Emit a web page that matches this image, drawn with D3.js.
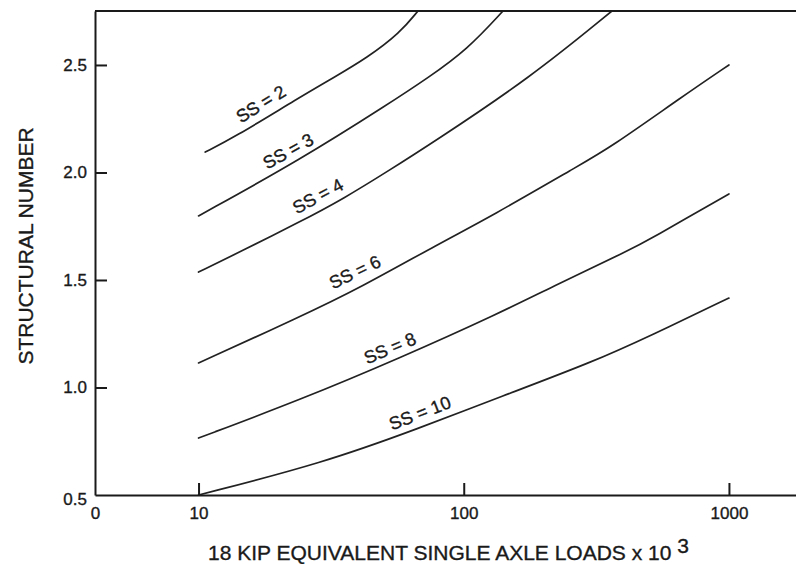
<!DOCTYPE html>
<html>
<head>
<meta charset="utf-8">
<script src="https://cdn.jsdelivr.net/npm/d3@7"></script>
<style>
  html, body { margin: 0; padding: 0; background: #fff; }
  svg { display: block; }
  text { font-family: "Liberation Sans", Arial, Helvetica, sans-serif; fill: #1a1a1a; stroke: #1a1a1a; stroke-width: 0.35px; }
</style>
</head>
<body>
<svg id="chart" width="796" height="564"></svg>
<script>
// ---- data ----
const xTickValues = [10, 100, 1000];
const yTickValues = [0.5, 1.0, 1.5, 2.0, 2.5];
const xTitle = "18 KIP EQUIVALENT SINGLE AXLE LOADS x 10";
const xTitleSup = "3";
const yTitle = "STRUCTURAL NUMBER";

const ssLevels = [2, 3, 4, 6, 8, 10];

const ss2Loads = [10.6, 13.5, 24.1, 32.2, 43.2, 57.5, 67.2];
const ss2SN    = [2.095, 2.16, 2.35, 2.44, 2.533, 2.649, 2.751];

const ss3Loads = [10, 24.1, 52.7, 73.3, 102.8, 140.6];
const ss3SN    = [1.798, 2.058, 2.323, 2.44, 2.57, 2.751];

const ss4Loads = [10, 14.3, 24.1, 35.1, 52.7, 76.6, 177.8, 362];
const ss4SN    = [1.537, 1.63, 1.77, 1.877, 2.012, 2.14, 2.44, 2.751];

const ss6Loads = [10, 24.1, 40.6, 81.4, 125.6, 274, 356, 671, 1000];
const ss6SN    = [1.114, 1.328, 1.463, 1.672, 1.793, 2.035, 2.115, 2.355, 2.5];

const ss8Loads = [10, 24.1, 57.5, 137, 211, 423, 504, 1000];
const ss8SN    = [0.765, 0.942, 1.137, 1.347, 1.463, 1.64, 1.69, 1.9];

const ss10Loads = [10, 29.5, 68.4, 137, 307, 504, 1000];
const ss10SN    = [0.5, 0.649, 0.812, 0.956, 1.119, 1.24, 1.416];

// label anchor (centre of text) in data units
const labelLoads = [17.2, 21.8, 28.2, 38.9, 52.7, 68.4];
const labelSN    = [2.318, 2.098, 1.889, 1.536, 1.182, 0.88];

const seriesLoads = [ss2Loads, ss3Loads, ss4Loads, ss6Loads, ss8Loads, ss10Loads];
const seriesSN    = [ss2SN, ss3SN, ss4SN, ss6SN, ss8SN, ss10SN];

// ---- layout ----
const plotLeft = 95, plotRight = 796, plotTop = 11, plotBottom = 495;
const xMin = 4.07, xMax = 1790;
const yMin = 0.5, yMax = 2.751;

const svg = d3.select("#chart");
const x = d3.scaleLog().domain([xMin, xMax]).range([plotLeft, plotRight]);
const y = d3.scaleLinear().domain([yMin, yMax]).range([plotBottom, plotTop]);

svg.append("defs").append("clipPath").attr("id", "plotclip")
  .append("rect").attr("x", plotLeft).attr("y", plotTop)
  .attr("width", plotRight - plotLeft).attr("height", plotBottom - plotTop);

// curves
const line = d3.line()
  .x(d => x(d[0])).y(d => y(d[1]))
  .curve(d3.curveBasis);

const gCurves = svg.append("g").attr("clip-path", "url(#plotclip)");
seriesLoads.forEach((loads, i) => {
  const pts = loads.map((l, j) => [l, seriesSN[i][j]]);
  gCurves.append("path")
    .attr("d", line(pts))
    .attr("fill", "none")
    .attr("stroke", "#222")
    .attr("stroke-width", 1.7)
    .attr("stroke-linecap", "round");
});

// labels
ssLevels.forEach((ss, i) => {
  const loads = seriesLoads[i], sn = seriesSN[i];
  const L = labelLoads[i];
  let k = d3.bisectRight(loads, L) - 1;
  k = Math.max(0, Math.min(loads.length - 2, k));
  const dx = x(loads[k + 1]) - x(loads[k]);
  const dy = y(sn[k + 1]) - y(sn[k]);
  const ang = Math.atan2(dy, dx) * 180 / Math.PI;
  const cx = x(L), cy = y(labelSN[i]);
  svg.append("text")
    .attr("transform", `translate(${cx},${cy}) rotate(${ang})`)
    .attr("text-anchor", "middle")
    .attr("dominant-baseline", "central")
    .attr("font-size", 18)
    .text(`SS = ${ss}`);
});

// top frame line (no right border)
svg.append("line").attr("x1", plotLeft).attr("x2", plotRight).attr("y1", plotTop).attr("y2", plotTop)
  .attr("stroke", "#1a1a1a").attr("stroke-width", 2);

// x axis
const xAxis = d3.axisBottom(x)
  .tickValues([xMin].concat(xTickValues))
  .tickSize(-12).tickSizeOuter(0).tickPadding(12)
  .tickFormat(d => d === xMin ? "0" : String(d));
const gx = svg.append("g").attr("transform", `translate(0,${plotBottom})`).call(xAxis);
gx.select(".domain").attr("stroke", "#1a1a1a").attr("stroke-width", 2);
gx.selectAll(".tick line").attr("stroke", "#1a1a1a").attr("stroke-width", 2)
  .filter(d => d === xMin).remove();
gx.selectAll(".tick text").attr("font-size", 17).attr("fill", "#1a1a1a")
  .style("font-family", "'Liberation Sans', Arial, sans-serif");

// y axis
const yAxis = d3.axisLeft(y)
  .tickValues(yTickValues)
  .tickSize(-12).tickSizeOuter(0).tickPadding(8)
  .tickFormat(d3.format(".1f"));
const gy = svg.append("g").attr("transform", `translate(${plotLeft},0)`).call(yAxis);
gy.select(".domain").attr("stroke", "#1a1a1a").attr("stroke-width", 2);
gy.selectAll(".tick line").attr("stroke", "#1a1a1a").attr("stroke-width", 2)
  .filter(d => d === yMin).remove();
gy.selectAll(".tick text").attr("font-size", 17).attr("fill", "#1a1a1a")
  .style("font-family", "'Liberation Sans', Arial, sans-serif");
gy.selectAll(".tick text").filter(d => d === yMin).attr("dy", "0.55em");

// axis titles
const xt = svg.append("text")
  .attr("x", 208).attr("y", 560)
  .attr("font-size", 21);
xt.append("tspan").text(xTitle + " ");
xt.append("tspan").attr("dy", -7).text(xTitleSup);

svg.append("text")
  .attr("transform", `translate(33,246) rotate(-90)`)
  .attr("text-anchor", "middle")
  .attr("font-size", 21)
  .text(yTitle);
</script>
</body>
</html>
